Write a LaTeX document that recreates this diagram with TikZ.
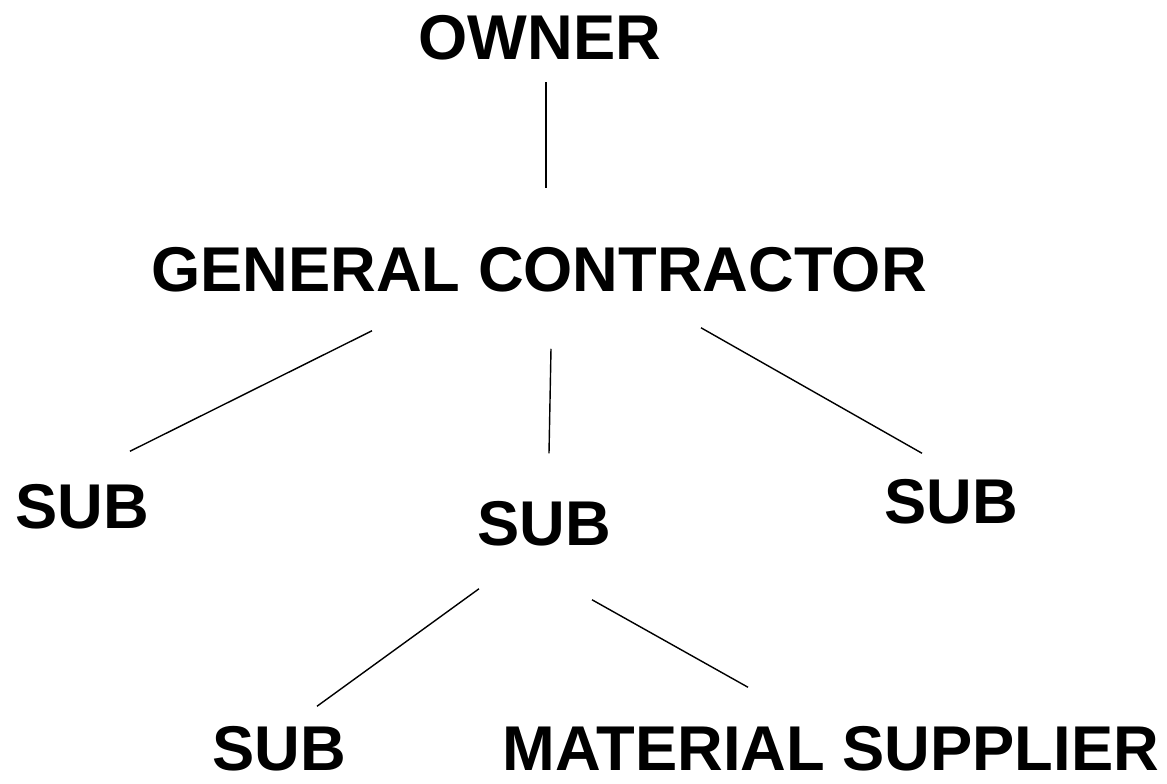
\documentclass[tikz,border=0pt]{standalone}
\usepackage{fontspec}
\setmainfont{Liberation Sans}
\usepackage{tikz}
\usetikzlibrary{positioning}

\begin{document}
\begin{tikzpicture}
\tikzstyle{every node}+=[inner sep=0pt]
\tikzstyle{party}=[font=\fontsize{36}{43}\selectfont\bfseries]
\tikzstyle{link}=[black, line width=0.8pt]
\useasboundingbox (0,0) rectangle (23.34,-15.66);
\node [party] (owner) at (10.8,-0.75) {OWNER};
\node [party] (gc) at (10.78,-5.4) {GENERAL CONTRACTOR};
\node [party] (subl) at (1.65,-10.14) {SUB};
\node [party] (subm) at (10.89,-10.48) {SUB};
\node [party] (subr) at (19.03,-10.04) {SUB};
\node [party] (subb) at (5.58,-14.98) {SUB};
\node [party] (supplier) at (16.62,-14.98) {MATERIAL SUPPLIER};
\draw [link] ([shift={(0.12,-0.44)}]owner.south) -- ([shift={(0.14,1.18)}]gc.north);
\draw [link] ([shift={(-3.34,-0.76)}]gc.south) -- ([shift={(0.95,0.66)}]subl.north);
\draw [link] ([shift={(0.24,-1.12)}]gc.south) -- ([shift={(0.09,0.96)}]subm.north);
\draw [link] ([shift={(3.24,-0.7)}]gc.south) -- ([shift={(-0.59,0.52)}]subr.north);
\draw [link] ([shift={(-1.31,-0.84)}]subm.south) -- ([shift={(0.76,0.4)}]subb.north);
\draw [link] ([shift={(0.95,-1.06)}]subm.south) -- ([shift={(-1.66,0.78)}]supplier.north);
\end{tikzpicture}
\end{document}
